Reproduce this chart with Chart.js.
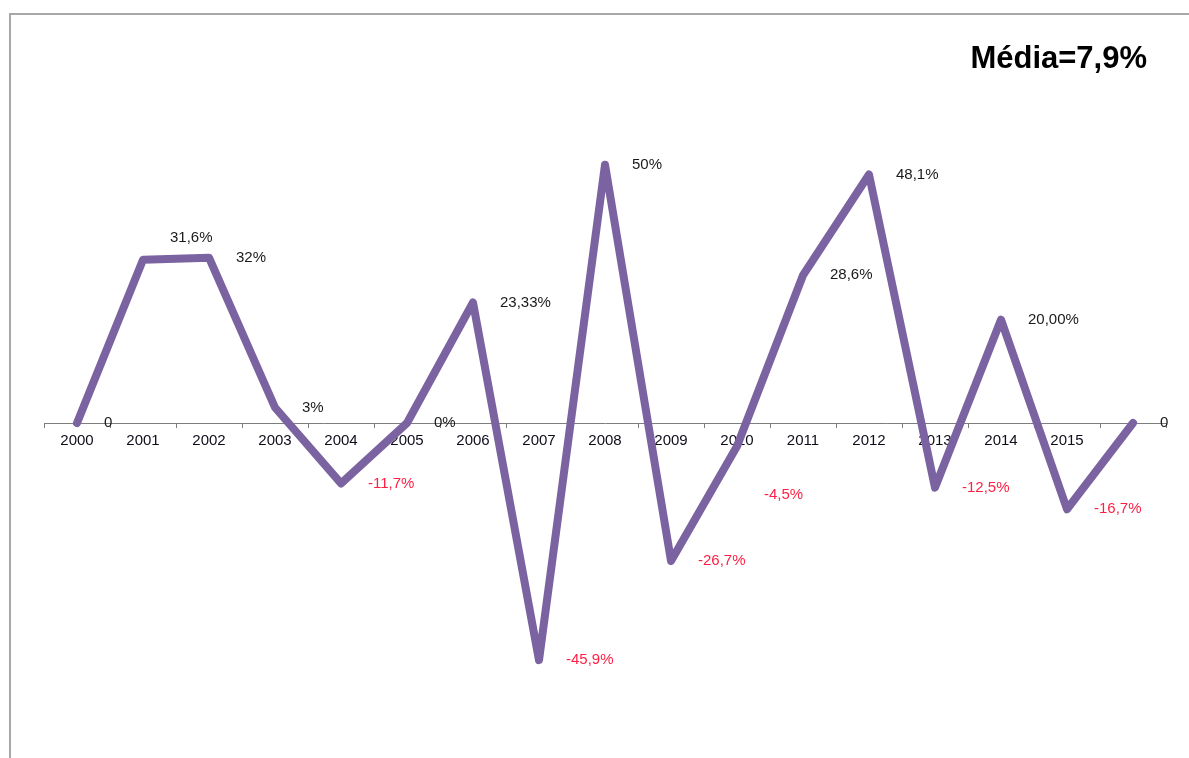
<!DOCTYPE html>
<html lang="pt-BR">
<head>
<meta charset="utf-8">
<title>Variação anual</title>
<script src="https://cdn.jsdelivr.net/npm/chart.js@4.4.1/dist/chart.umd.min.js"></script>
<style>
  html, body { margin: 0; padding: 0; background: #fff; overflow: hidden; }
  #moldura { position: absolute; left: 9px; top: 13px; width: 1300px; height: 900px;
             border-left: 2px solid #a8a8a8; border-top: 2px solid #a8a8a8; }
  #grafico { position: absolute; left: 0; top: 0; }
</style>
</head>
<body>
<div id="moldura"></div>
<canvas id="grafico" width="1189" height="758"></canvas>
<script>
// Dados (variação % ao ano)
const anos = ['2000', '2001', '2002', '2003', '2004', '2005', '2006', '2007',
              '2008', '2009', '2010', '2011', '2012', '2013', '2014', '2015', ''];
const variacao = [0, 31.6, 32, 3, -11.7, 0, 23.33, -45.9, 50, -26.7, -4.5, 28.6, 48.1, -12.5, 20, -16.7, 0];
const rotulos = ['0', '31,6%', '32%', '3%', '-11,7%', '0%', '23,33%', '-45,9%', '50%',
                 '-26,7%', '-4,5%', '28,6%', '48,1%', '-12,5%', '20,00%', '-16,7%', '0'];
const mediaTexto = 'Média=7,9%';

const fonte = '"Liberation Sans", Arial, sans-serif';

// Rótulos de valor ao lado de cada ponto + texto da média
const rotulosPlugin = {
    id: 'rotulos',
    afterDatasetsDraw(chart) {
        const ctx = chart.ctx;
        const pontos = chart.getDatasetMeta(0).data;
        ctx.save();
        ctx.font = '15px ' + fonte;
        ctx.textAlign = 'left';
        ctx.textBaseline = 'middle';
        pontos.forEach((p, i) => {
            let dy = 0;
            if (i === 1) dy = -22;   // 31,6% fica acima do ponto
            if (i === 10) dy = 49;   // -4,5% fica bem abaixo
            ctx.fillStyle = variacao[i] < 0 ? '#ff1f44' : '#1a1a1a';
            ctx.fillText(rotulos[i], p.x + 27, p.y + dy);
        });

        ctx.font = 'bold 31px ' + fonte;
        ctx.textAlign = 'right';
        ctx.fillStyle = '#000';
        ctx.fillText(mediaTexto, 1147, 59);
        ctx.restore();
    }
};

const ctx = document.getElementById('grafico').getContext('2d');
new Chart(ctx, {
    type: 'line',
    data: {
        labels: anos,
        datasets: [{
            data: variacao,
            borderColor: '#7b63a1',
            borderWidth: 8,
            pointRadius: 0,
            tension: 0,
            borderJoinStyle: 'round',
            borderCapStyle: 'round',
            clip: false
        }]
    },
    options: {
        responsive: false,
        animation: false,
        layout: { padding: { left: 44, right: 23, top: 113, bottom: 25 } },
        plugins: {
            legend: { display: false },
            tooltip: { enabled: false },
            title: { display: false }
        },
        scales: {
            x: {
                type: 'category',
                offset: true,
                position: { y: 0 },
                grid: { offset: true, drawOnChartArea: false, drawTicks: true, tickLength: 4, color: '#7d7d7d' },
                border: { display: true, color: '#7d7d7d', width: 1 },
                ticks: { color: '#0d0d1a', font: { family: fonte, size: 15 }, padding: 5, maxRotation: 0, autoSkip: false }
            },
            y: { display: false, min: -60, max: 60 }
        }
    },
    plugins: [rotulosPlugin]
});
</script>
</body>
</html>
